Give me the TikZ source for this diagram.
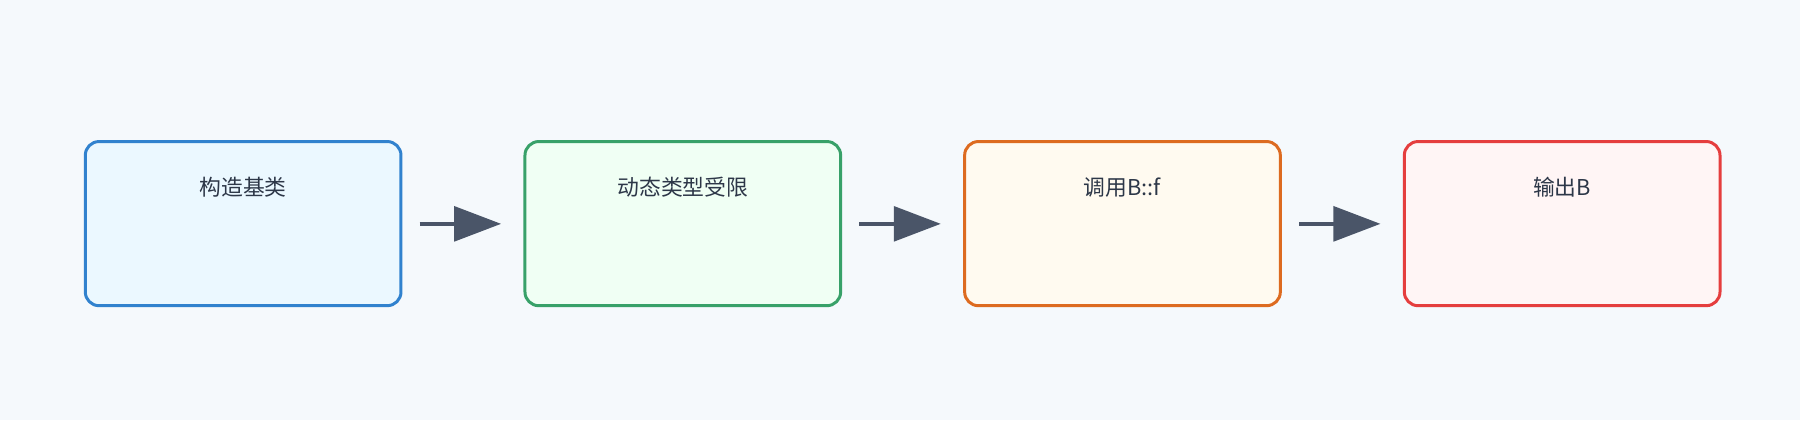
\documentclass[tikz,border=0pt]{standalone}
\usepackage{fontspec}
\setmainfont{Noto Sans CJK SC}
\usetikzlibrary{arrows.meta}
\definecolor{bg}{HTML}{F5F9FC}
\definecolor{txt}{HTML}{2D3748}
\definecolor{arr}{HTML}{4A5568}
\begin{document}
\begin{tikzpicture}[x=1pt,y=-1pt,
  box/.style={draw=#1!100, line width=2.6pt, rounded corners=12pt, minimum width=275pt, minimum height=143pt, anchor=north west},
  lbl/.style={text=txt, font=\fontsize{19pt}{22pt}\selectfont, anchor=center},
  con/.style={draw=arr, line width=4pt, -{Triangle[length=41pt,width=30pt]}, shorten >=2pt, shorten <=2pt}]
\fill[bg] (0,0) rectangle (1568,366);
\useasboundingbox (0,0) rectangle (1568,366);
\definecolor{b1}{HTML}{3182CE}\definecolor{f1}{HTML}{EBF8FF}
\definecolor{b2}{HTML}{38A169}\definecolor{f2}{HTML}{F0FFF4}
\definecolor{b3}{HTML}{DD6B20}\definecolor{f3}{HTML}{FFFAF0}
\definecolor{b4}{HTML}{E53E3E}\definecolor{f4}{HTML}{FFF5F5}
\node[box=b1, fill=f1] (n1) at (73,122) {};
\node[box=b2, fill=f2] (n2) at (456,122) {};
\node[box=b3, fill=f3] (n3) at (839,122) {};
\node[box=b4, fill=f4] (n4) at (1222,122) {};
\node[lbl] (t1) at ([yshift=-41pt]n1.north) {构造基类};
\node[lbl] (t2) at ([yshift=-41pt]n2.north) {动态类型受限};
\node[lbl] (t3) at ([yshift=-41pt]n3.north) {调用B::f};
\node[lbl] (t4) at ([yshift=-41pt]n4.north) {输出B};
\coordinate (a1) at (363,195); \coordinate (a2) at (746,195); \coordinate (a3) at (1129,195);
\draw[con] (n1.east |- a1) ++(13,0) -- ++(75,0);
\draw[con] (n2.east |- a2) ++(13,0) -- ++(75,0);
\draw[con] (n3.east |- a3) ++(13,0) -- ++(75,0);
\end{tikzpicture}
\end{document}
